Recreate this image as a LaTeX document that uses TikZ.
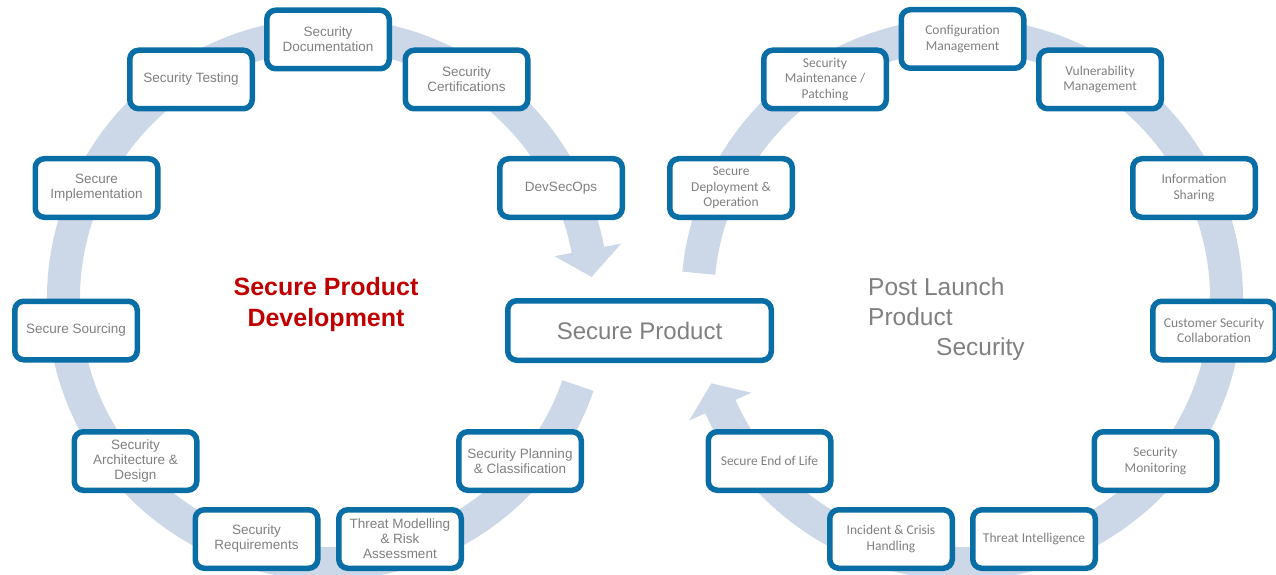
\documentclass[tikz,border=0pt]{standalone}
\usepackage{fontspec}
\setmainfont{Liberation Sans}
\newfontfamily\calfont{Carlito}
\definecolor{boxblue}{RGB}{10,110,166}
\definecolor{ringcol}{RGB}{204,215,231}
\definecolor{txtgray}{RGB}{128,128,128}
\definecolor{titlered}{RGB}{192,0,0}
\tikzset{
  ring/.style={fill=ringcol, draw=none},
  box/.style={draw=boxblue, line width=5.5pt, rounded corners=9pt, fill=white,
    minimum width=122.5pt, minimum height=58.5pt, align=center, text=txtgray,
    inner sep=1pt, font=\fontsize{13.5}{15}\selectfont},
  rbox/.style={box, font=\calfont\fontsize{13.5}{15.5}\selectfont},
  bigbox/.style={box, minimum width=263.5pt, minimum height=59.5pt, font=\fontsize{24}{28}\selectfont},
  redtitle/.style={align=center, text=titlered, inner sep=0pt, font=\bfseries\fontsize{25}{31}\selectfont},
  graytitle/.style={align=left, text=txtgray, inner sep=0pt, font=\fontsize{24.5}{30}\selectfont}
}
\begin{document}
\begin{tikzpicture}[x=1pt,y=1pt]
\useasboundingbox (0,0) rectangle (1276,574);
% left circular arrow
\begin{scope}[shift={(328,275)}]
\fill[ring] (-19.1:281) arc[start angle=-19.1, end angle=-349.3, radius=281]
  -- (10.7:298.5) -- (4.8:264.5) -- (10.7:230.5) -- (10.7:248)
  arc[start angle=10.7, end angle=340.9, radius=248] -- cycle;
\end{scope}
% right circular arrow
\begin{scope}[shift={(962,275)}]
\fill[ring] (174.4:281) arc[start angle=174.4, end angle=-156, radius=281]
  -- (-156:298.5) -- (-161.4:264.5) -- (-156:230.5) -- (-156:248)
  arc[start angle=-156, end angle=174.4, radius=248] -- cycle;
\end{scope}
% left boxes
\node[box] (doc) at (328,534.5) {Security\\Documentation};
\node[box] (test) at (191,494.5) {Security Testing};
\node[box] (cert) at (466.5,494.5) {Security\\Certifications};
\node[box] (impl) at (96.5,386) {Secure\\Implementation};
\node[box] (devsec) at (561,386) {DevSecOps};
\node[box] (sourc) at (76,243.5) {Secure Sourcing};
\node[box] (arch) at (135.5,113) {Security\\Architecture \&\\Design};
\node[box] (req) at (256.5,35) {Security\\Requirements};
\node[box] (threat) at (400,35) {Threat Modelling\\\& Risk\\Assessment};
\node[box] (plan) at (520,113) {Security Planning\\\& Classification};
% centre
\node[bigbox] (prod) at (639.5,243.5) {Secure Product};
% right boxes
\node[rbox] (conf) at (962.5,535) {Configuration\\Management};
\node[rbox] (maint) at (825,494.5) {Security\\Maintenance /\\Patching};
\node[rbox] (vuln) at (1100,494.5) {Vulnerability\\Management};
\node[rbox] (deploy) at (731,386) {Secure\\Deployment \&\\Operation};
\node[rbox] (info) at (1194,386) {Information\\Sharing};
\node[rbox] (cust) at (1214,243.5) {Customer Security\\Collaboration};
\node[rbox] (mon) at (1155.5,113) {Security\\Monitoring};
\node[rbox] (ti) at (1034,35) {Threat Intelligence};
\node[rbox] (inc) at (891,35) {Incident \& Crisis\\Handling};
\node[rbox] (eol) at (769.5,113) {Secure End of Life};
% titles
\node[redtitle] (spd) at (326,269.5) {Secure Product\\Development};
\node[graytitle, anchor=west] (pls) at (868,255) {Post Launch\\Product\\\hspace*{68pt}Security};
\end{tikzpicture}
\end{document}
